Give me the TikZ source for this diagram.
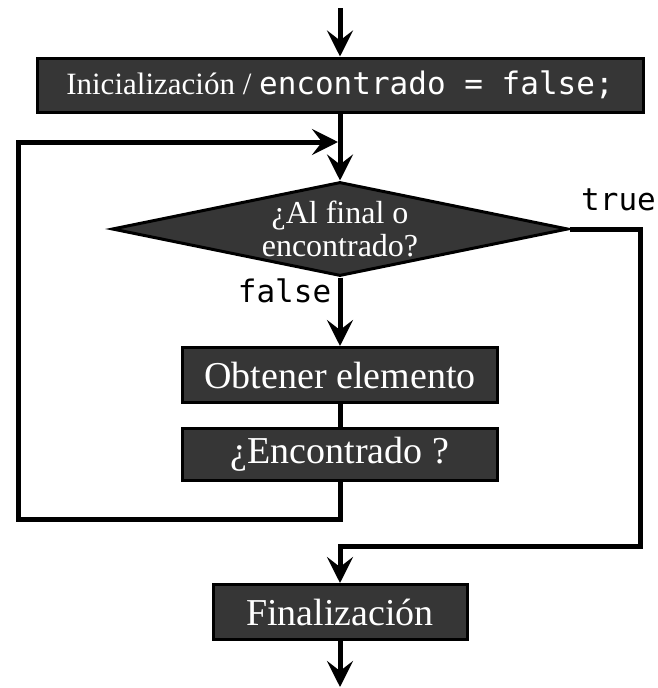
\documentclass[tikz,border=0pt]{standalone}
\usepackage{fontspec}
\setmainfont{Liberation Serif}
\newfontfamily\monofont{DejaVu Sans Mono}
\usetikzlibrary{shapes.geometric,arrows.meta}
\definecolor{boxgray}{HTML}{363636}
\begin{document}
\begin{tikzpicture}[x=1pt,y=-1pt,
  box/.style={draw=black, line width=3pt, fill=boxgray, text=white, inner sep=0pt, font=\fontsize{38}{40}\selectfont},
  decision/.style={diamond, draw=black, line width=3pt, fill=boxgray, inner sep=0pt, minimum width=456pt, minimum height=94pt},
  dtext/.style={align=center, text=white, font=\fontsize{32}{33}\selectfont},
  flow/.style={line width=5pt, -{Stealth[length=26pt,width=26pt,inset=10pt]}},
  plain/.style={line width=5pt},
  lbl/.style={font=\monofont\fontsize{31}{33}\selectfont}]
\useasboundingbox (0,0) rectangle (657,688);
\coordinate (top) at (340,8);
\coordinate (back) at (338,142);
\coordinate (bot) at (340,687);
\node[box, minimum width=606pt, minimum height=54pt, font=\fontsize{31}{33}\selectfont] (init) at (340,85) {Inicialización / {\monofont encontrado = false;}};
\node[decision, label={[dtext]center:{¿Al final o\\encontrado?}}] (cond) at (340,229) {};
\node[box, minimum width=315pt, minimum height=55pt] (obt) at (340,375) {Obtener elemento};
\node[box, minimum width=315pt, minimum height=52pt] (enc) at (340,454) {¿Encontrado ?};
\node[box, minimum width=254pt, minimum height=55pt] (fin) at (340,612) {Finalización};
\node[lbl, anchor=west, inner sep=1pt] (truelbl) at (580,200) {true};
\draw[flow] (top) -- (init);
\draw[flow] (init) -- (cond);
\draw[flow] (cond) -- node[lbl, pos=0.2, left=3pt] (falselbl) {false} (obt);
\draw[plain] (obt) -- (enc);
\draw[flow] (enc.south) -- ++(0,38) -| (18,142) -- (back);
\draw[flow] (cond.east) -| (640,546) -| (fin.north);
\draw[flow] (fin) -- (bot);
\end{tikzpicture}
\end{document}
